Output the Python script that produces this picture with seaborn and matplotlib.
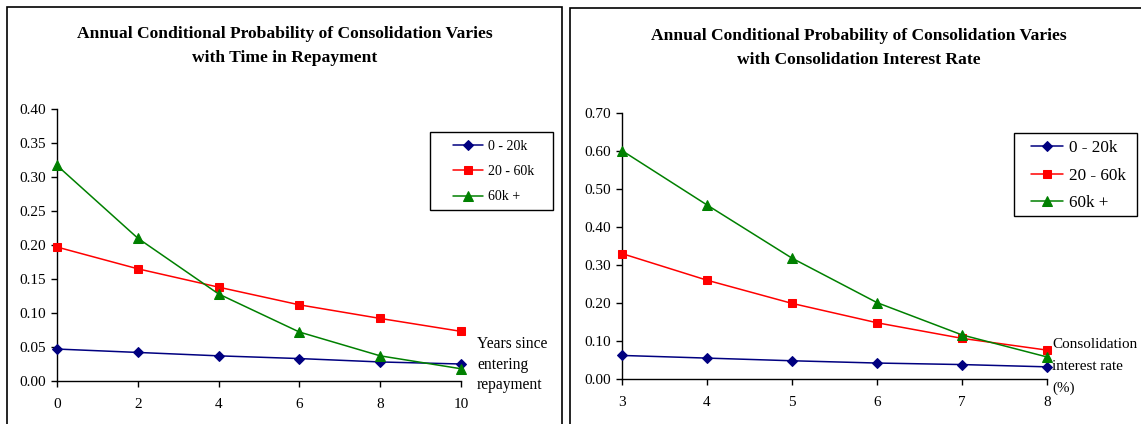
import matplotlib
matplotlib.use("Agg")
import matplotlib.pyplot as plt
import matplotlib.patches as mpatches
import seaborn as sns
import pandas as pd

years = [0, 2, 4, 6, 8, 10]
rates = [3, 4, 5, 6, 7, 8]
series_names = ["0 - 20k", "20 - 60k", "60k +"]

years_low = [0.047, 0.042, 0.037, 0.033, 0.028, 0.025]
years_mid = [0.197, 0.165, 0.138, 0.112, 0.092, 0.073]
years_high = [0.317, 0.210, 0.128, 0.072, 0.037, 0.018]

rate_low = [0.062, 0.055, 0.048, 0.042, 0.038, 0.032]
rate_mid = [0.330, 0.260, 0.199, 0.148, 0.107, 0.076]
rate_high = [0.601, 0.458, 0.318, 0.201, 0.116, 0.058]

left_title = "Annual Conditional Probability of Consolidation Varies\nwith Time in Repayment"
right_title = "Annual Conditional Probability of Consolidation Varies\nwith Consolidation Interest Rate"

sns.set_theme(style="white")
plt.rcParams['font.family'] = ['Liberation Serif', 'DejaVu Serif']
plt.rcParams['text.color'] = 'black'
plt.rcParams['xtick.color'] = 'black'
plt.rcParams['ytick.color'] = 'black'

colors = ["#000080", "#FF0000", "#008000"]
markers = ["D", "s", "^"]
msizes = [5, 6, 7]

W, H = 1141, 424


def fx(px):
    return px / W


def fy(py):
    return 1 - py / H


def make_df(x, ys):
    rows = []
    for name, yv in zip(series_names, ys):
        for xi, yi in zip(x, yv):
            rows.append({"x": xi, "y": yi, "series": name})
    return pd.DataFrame(rows)


fig = plt.figure(figsize=(W / 100, H / 100), dpi=100)


def rect(x0, y0, x1, y1, lw=1.2):
    fig.patches.append(mpatches.Rectangle((fx(x0), fy(y1)), fx(x1) - fx(x0), fy(y0) - fy(y1),
                                          transform=fig.transFigure, fill=False,
                                          edgecolor="black", linewidth=lw, zorder=5))


# panel borders
rect(7, 7, 562, 430)
rect(570, 8, 1150, 430)

ax1 = fig.add_axes([fx(57), fy(381), fx(461) - fx(57), fy(109) - fy(381)])
ax2 = fig.add_axes([fx(622), fy(379), fx(1047) - fx(622), fy(113) - fy(379)])


def draw(ax, x, ys, ymax, yticks, leg_anchor, fs_leg, hlen, lspace):
    df = make_df(x, ys)
    for name, c, m, ms in zip(series_names, colors, markers, msizes):
        sub = df[df["series"] == name]
        sns.lineplot(data=sub, x="x", y="y", ax=ax, color=c, marker=m,
                     markersize=ms, markeredgecolor=c, linewidth=1.1, label=name,
                     clip_on=False, zorder=3)
    ax.set_xlim(x[0], x[-1])
    ax.set_ylim(0, ymax)
    ax.set_xticks(x)
    ax.set_yticks(yticks)
    ax.set_yticklabels(["{:.2f}".format(v) for v in yticks])
    ax.set_xlabel("")
    ax.set_ylabel("")
    for s in ["top", "right"]:
        ax.spines[s].set_visible(False)
    for s in ["left", "bottom"]:
        ax.spines[s].set_color("black")
        ax.spines[s].set_linewidth(1.0)
    ax.tick_params(axis="both", which="both", direction="out", length=4, width=1,
                   colors="black", labelsize=11, left=True, bottom=True)
    ax.tick_params(axis="x", pad=8)
    ax.tick_params(axis="y", pad=4)
    ax.patch.set_alpha(0)
    leg = ax.legend(loc="upper left", bbox_to_anchor=leg_anchor, bbox_transform=fig.transFigure,
                    frameon=False, fontsize=fs_leg, borderpad=0, borderaxespad=0,
                    handlelength=hlen, labelspacing=lspace, handletextpad=0.4)
    leg.set_zorder(10)


draw(ax1, years, [years_low, years_mid, years_high], 0.40,
     [0.0, 0.05, 0.10, 0.15, 0.20, 0.25, 0.30, 0.35, 0.40],
     (fx(453), fy(140)), 10, 2.15, 0.88)
rect(430, 132, 553, 210, lw=1.0)

draw(ax2, rates, [rate_low, rate_mid, rate_high], 0.70,
     [0.0, 0.10, 0.20, 0.30, 0.40, 0.50, 0.60, 0.70],
     (fx(1031), fy(140)), 12.3, 1.85, 0.68)
rect(1014, 133, 1137, 216, lw=1.0)

fig.text(fx(285), fy(46), left_title, ha="center", va="center",
         fontsize=12.6, fontweight="bold", linespacing=1.65)
fig.text(fx(859), fy(48), right_title, ha="center", va="center",
         fontsize=12.6, fontweight="bold", linespacing=1.75)

fig.text(fx(477), fy(344), "Years since", ha="left", va="center", fontsize=11.2)
fig.text(fx(477), fy(365), "entering", ha="left", va="center", fontsize=11.2)
fig.text(fx(477), fy(385), "repayment", ha="left", va="center", fontsize=11.2)
fig.text(fx(1052), fy(345), "Consolidation", ha="left", va="center", fontsize=10.9)
fig.text(fx(1052), fy(366), "interest rate", ha="left", va="center", fontsize=10.9)
fig.text(fx(1052), fy(388), "(%)", ha="left", va="center", fontsize=10.9)

fig.savefig("out.png", dpi=100)
